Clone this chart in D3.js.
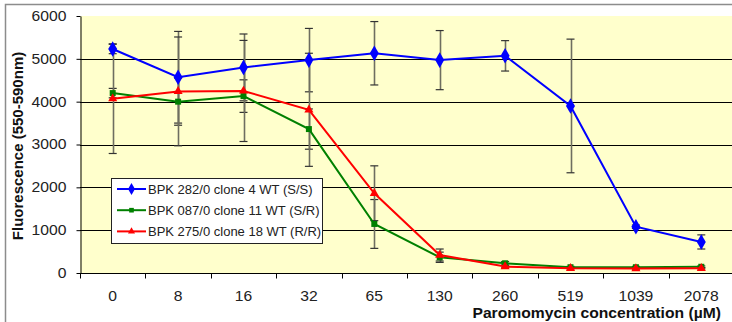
<!DOCTYPE html>
<html>
<head>
<meta charset="utf-8">
<script src="https://cdn.jsdelivr.net/npm/d3@7"></script>
<style>
  body { margin: 0; background: #fff; }
  svg { display: block; font-family: "Liberation Sans", Arial, sans-serif; }
</style>
</head>
<body>
<svg id="chart" width="732" height="322"></svg>
<script>
// paromomycin concentrations (uM) on the x axis
const concentrations = ['0', '8', '16', '32', '65', '130', '260', '519', '1039', '2078'];
const yTicks = [0, 1000, 2000, 3000, 4000, 5000, 6000];

const ssValues = [5230, 4570, 4800, 4970, 5130, 4970, 5070, 3900, 1080, 725];
const ssErrors = [110, 1070, 780, 740, 740, 690, 355, 1560, 40, 165];

const srValues = [4200, 4000, 4130, 3360, 1145, 367, 227, 135, 135, 145];
const srErrors = [110, 550, 380, 470, 570, 120, 40, 20, 20, 20];

const rrValues = [4070, 4240, 4250, 3810, 1862, 420, 150, 110, 105, 110];
const rrErrors = [1280, 1270, 1180, 1320, 640, 140, 30, 15, 15, 15];

const seriesNames = ['BPK 282/0 clone 4 WT (S/S)', 'BPK 087/0 clone 11 WT (S/R)', 'BPK 275/0 clone 18 WT (R/R)'];

const series = [
  { name: seriesNames[0], values: ssValues, errors: ssErrors, color: '#0000ff', symbol: d3.symbolDiamond, size: 70 },
  { name: seriesNames[1], values: srValues, errors: srErrors, color: '#008000', symbol: d3.symbolSquare, size: 36 },
  { name: seriesNames[2], values: rrValues, errors: rrErrors, color: '#ff0000', symbol: d3.symbolTriangle, size: 36 }
];

const plot = { left: 80, right: 734, top: 16, bottom: 273 };
// axis text in the original is a bit wider than Liberation Sans
const stretch = 1.12;

const svg = d3.select('#chart');

// outer chart border
svg.append('rect')
  .attr('x', 5.5).attr('y', 4.5)
  .attr('width', 760).attr('height', 340)
  .attr('fill', '#fff')
  .attr('stroke', '#8c8c8c')
  .attr('stroke-width', 1.5);

const xScale = d3.scaleBand()
  .domain(concentrations)
  .range([plot.left, plot.right])
  .padding(0);

const yScale = d3.scaleLinear()
  .domain([0, 6000])
  .range([plot.bottom, plot.top]);

const cx = c => xScale(c) + xScale.bandwidth() / 2;

// plot area
svg.append('rect')
  .attr('x', plot.left).attr('y', plot.top)
  .attr('width', plot.right - plot.left)
  .attr('height', plot.bottom - plot.top)
  .attr('fill', '#ffffcc');

// gridlines
svg.append('g')
  .selectAll('line')
  .data(yTicks.filter(t => t > 0 && t < 6000))
  .join('line')
  .attr('x1', plot.left).attr('x2', plot.right)
  .attr('y1', d => Math.round(yScale(d)) + 0.5)
  .attr('y2', d => Math.round(yScale(d)) + 0.5)
  .attr('stroke', '#000')
  .attr('stroke-width', 1);

// y axis
svg.append('g')
  .attr('transform', 'translate(' + (plot.left + 0.5) + ',0)')
  .call(d3.axisLeft(yScale).tickValues(yTicks).tickFormat(d3.format('d'))
    .tickSize(4).tickPadding(10).tickSizeOuter(0))
  .call(g => g.select('.domain').attr('stroke', '#000'))
  .call(g => g.selectAll('.tick line').attr('stroke', '#000'))
  .call(g => g.selectAll('.tick text')
    .attr('x', 0)
    .attr('transform', 'translate(-14,0) scale(' + stretch + ',1)')
    .attr('fill', '#222')
    .style('font-size', '14px')
    .style('font-family', '"Liberation Sans", Arial, sans-serif'));

// x axis: ticks sit between categories
const xAxisG = svg.append('g')
  .attr('transform', 'translate(0,' + (plot.bottom + 0.5) + ')');
xAxisG.append('line')
  .attr('x1', plot.left).attr('x2', plot.right)
  .attr('stroke', '#000');
xAxisG.selectAll('.tick-mark')
  .data(concentrations)
  .join('line')
  .attr('class', 'tick-mark')
  .attr('x1', d => Math.round(xScale(d)) + 0.5)
  .attr('x2', d => Math.round(xScale(d)) + 0.5)
  .attr('y1', 0).attr('y2', 5)
  .attr('stroke', '#000');
xAxisG.selectAll('.tick-label')
  .data(concentrations)
  .join('text')
  .attr('class', 'tick-label')
  .attr('transform', d => 'translate(' + cx(d) + ',27) scale(' + stretch + ',1)')
  .attr('text-anchor', 'middle')
  .attr('fill', '#222')
  .style('font-size', '14px')
  .text(d => d);

// axis titles
svg.append('text')
  .attr('transform', 'translate(' + 23 + ',' + 146 + ') rotate(-90)')
  .attr('text-anchor', 'middle')
  .attr('font-weight', 'bold')
  .attr('fill', '#111')
  .style('font-size', '15px')
  .text('Fluorescence (550-590nm)');

svg.append('text')
  .attr('transform', 'translate(721,318) scale(' + stretch + ',1)')
  .attr('text-anchor', 'end')
  .attr('font-weight', 'bold')
  .attr('fill', '#111')
  .style('font-size', '14px')
  .text('Paromomycin concentration (\u00b5M)');

// error bars
series.forEach(s => {
  const g = svg.append('g').attr('class', 'errors');
  const pts = concentrations.map((c, i) => ({ c: c, v: s.values[i], e: s.errors[i] }));
  g.selectAll('.bar')
    .data(pts)
    .join('line')
    .attr('class', 'bar')
    .attr('x1', d => Math.round(cx(d.c)) + 0.5)
    .attr('x2', d => Math.round(cx(d.c)) + 0.5)
    .attr('y1', d => yScale(d.v + d.e))
    .attr('y2', d => yScale(d.v - d.e))
    .attr('stroke', '#6e6e60')
    .attr('stroke-width', 1.6);
  [['cap-up', 1], ['cap-down', -1]].forEach(([cls, sign]) => {
    g.selectAll('.' + cls)
      .data(pts)
      .join('line')
      .attr('class', cls)
      .attr('x1', d => cx(d.c) - 4)
      .attr('x2', d => cx(d.c) + 4)
      .attr('y1', d => yScale(d.v + sign * d.e))
      .attr('y2', d => yScale(d.v + sign * d.e))
      .attr('stroke', '#333')
      .attr('stroke-width', 1.2);
  });
});

// lines and markers
const line = d3.line()
  .x((d, i) => cx(concentrations[i]))
  .y(d => yScale(d));

series.forEach(s => {
  svg.append('path')
    .attr('d', line(s.values))
    .attr('fill', 'none')
    .attr('stroke', s.color)
    .attr('stroke-width', 2);
  svg.append('g')
    .selectAll('path')
    .data(s.values)
    .join('path')
    .attr('transform', (d, i) => 'translate(' + cx(concentrations[i]) + ',' + yScale(d) + ')')
    .attr('d', d3.symbol().type(s.symbol).size(s.size))
    .attr('fill', s.color);
});

// legend
const legend = svg.append('g').attr('transform', 'translate(111,178)');
legend.append('rect')
  .attr('x', 0.5).attr('y', 0.5)
  .attr('width', 211).attr('height', 65)
  .attr('fill', '#fff')
  .attr('stroke', '#222')
  .attr('stroke-width', 1);

series.forEach((s, i) => {
  const row = legend.append('g').attr('transform', 'translate(0,' + (11 + i * 21.2) + ')');
  row.append('line')
    .attr('x1', 6).attr('x2', 35)
    .attr('y1', 0).attr('y2', 0)
    .attr('stroke', s.color)
    .attr('stroke-width', 2);
  row.append('path')
    .attr('transform', 'translate(20.5,0)')
    .attr('d', d3.symbol().type(s.symbol).size(s.size * 0.6))
    .attr('fill', s.color);
  row.append('text')
    .attr('x', 37)
    .attr('y', 5)
    .attr('fill', '#222')
    .style('font-size', '13px')
    .text(s.name);
});
</script>
</body>
</html>
